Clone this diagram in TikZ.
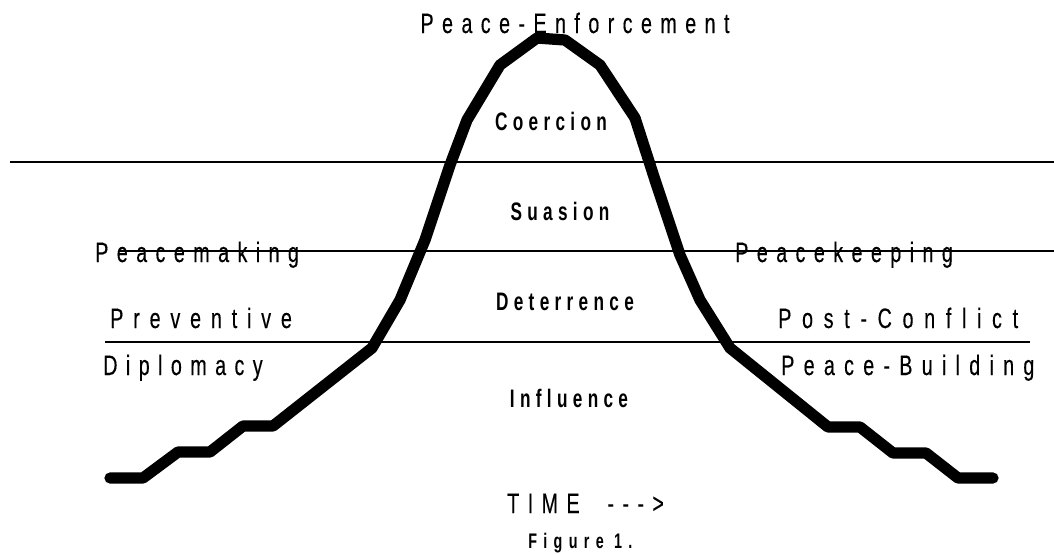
\documentclass[tikz,border=0pt]{standalone}
\usepackage{fontspec}
\setmainfont{Liberation Sans}
\newfontfamily\lblfont[LetterSpace=30,FakeStretch=0.7,FakeBold=0.3]{Liberation Sans}
\newfontfamily\zonefont[LetterSpace=21,FakeStretch=0.68]{Liberation Sans Bold}
\usetikzlibrary{positioning}

\begin{document}
\begin{tikzpicture}[
  x=0.025cm, y=-0.025cm,
  lbl/.style={inner sep=0pt, font=\lblfont\fontsize{20}{24}\selectfont},
  zone/.style={inner sep=0pt, anchor=base, font=\zonefont\fontsize{18}{21}\selectfont},
  rule/.style={line width=1.3pt},
  crv/.style={line width=8pt, line join=round, line cap=round}
]
\useasboundingbox (0,0) rectangle (1054,554);

% level lines
\draw[rule] (10,162) -- (1054,162);
\draw[rule] (120,251) -- (1054,251);
\draw[rule] (105,342) -- (1030,342);

% conflict curve
\draw[crv] (110,478) -- (143,478) -- (178,452) -- (210,452) -- (243,426) -- (273,426)
  -- (372,348) -- (400,300) -- (425,240) -- (450,165) -- (467,120) -- (500,65)
  -- (537,38) -- (565,40) -- (600,65) -- (635,118) -- (655,180) -- (680,255)
  -- (700,300) -- (730,348) -- (828,427) -- (860,427) -- (893,453) -- (926,453)
  -- (958,478) -- (993,478);

% zone labels
\node[zone] (coer) at (551,130) {Coercion};
\node[zone] (suas) at (560,220) {Suasion};
\node[zone] (dete) at (565,310) {Deterrence};
\node[zone] (infl) at (569,407) {Influence};

% phase labels
\node[lbl, anchor=base] (enf) at (575,33) {Peace-Enforcement};
\node[lbl, anchor=base west] (pmk) at (95,262) {Peacemaking};
\node[lbl, anchor=base west] (prv) at (110,328) {\addfontfeature{LetterSpace=35}Preventive};
\node[lbl, anchor=base west] (dip) at (103,375) {Diplomacy};
\node[lbl, anchor=base west] (pkp) at (735,262) {Peacekeeping};
\node[lbl, anchor=base west] (pcf) at (778,328) {\addfontfeature{LetterSpace=38}Post-Conflict};
\node[lbl, anchor=base west] (pbd) at (781,375) {\addfontfeature{LetterSpace=33}Peace-Building};

\node[lbl, anchor=base west] (time) at (507,513) {TIME\ \ ---\textgreater};
\node[zone, anchor=base west, font=\zonefont\fontsize{15}{18}\selectfont\addfontfeature{LetterSpace=30}] (fig) at (528,548) {Figure 1.};
\end{tikzpicture}
\end{document}
